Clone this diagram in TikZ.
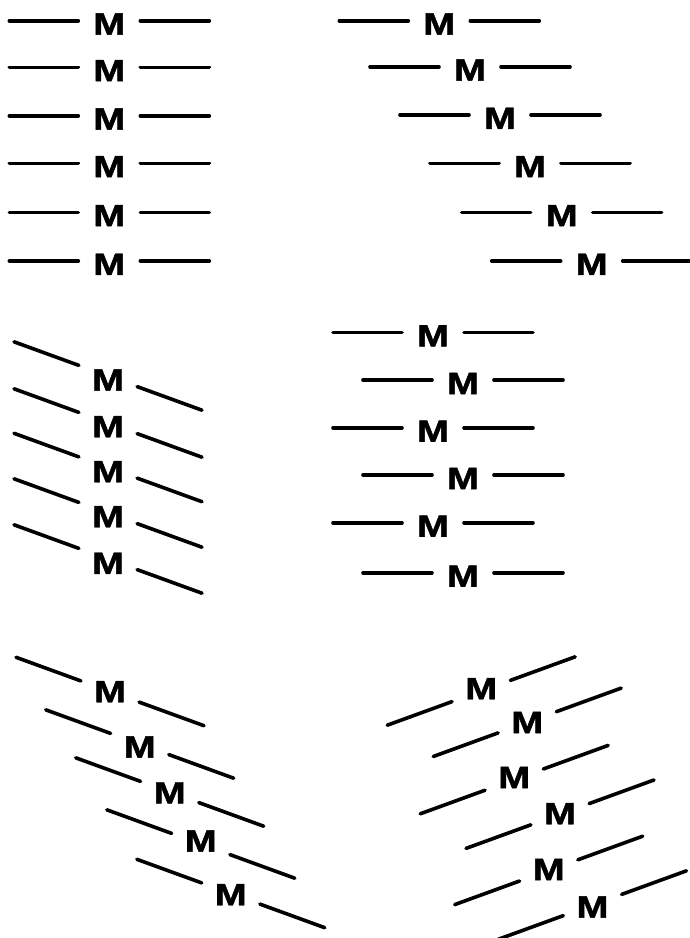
\documentclass[tikz,border=0pt]{standalone}
\usepackage{fontspec}
\newfontfamily\mfontfam[FakeBold=1.4]{Liberation Sans Bold}
\usetikzlibrary{calc}
\newcommand\mglyph{\scalebox{1.24}[1]{M}}
\tikzset{
  seg/.style={line width=3.6pt, line cap=round, black},
  mlab/.style={font=\mfontfam\fontsize{30.7}{31}\selectfont, inner sep=0pt, outer sep=0pt, anchor=center}
}
\begin{document}
\begin{tikzpicture}[x=1pt,y=-1pt]
\useasboundingbox (0,0) rectangle (690,938);
\foreach \n/\px/\py/\mx/\my/\a in {
  % panel 1 (top left)
  A1/109.3/20.7/109.3/24.0/0,
  A2/109.3/67.3/109.3/70.6/0,
  A3/109.3/115.7/109.3/119.0/0,
  A4/109.3/163.3/109.3/166.6/0,
  A5/109.3/212.3/109.3/215.6/0,
  A6/109.3/261.0/109.3/264.3/0,
  % panel 2 (top right)
  B1/439.3/20.7/439.3/24.0/0,
  B2/470.0/66.7/470.0/70.0/0,
  B3/500.0/115.0/500.0/118.3/0,
  B4/530.0/163.3/530.0/166.6/0,
  B5/561.7/212.3/561.7/215.6/0,
  B6/591.7/261.0/591.7/264.3/0,
  % panel 3 (middle left)
  C1/108/376.0/108/380.0/20,
  C2/108/423.0/108/426.7/20,
  C3/108/467.5/108/471.7/20,
  C4/108/513.0/108/516.7/20,
  C5/108/559.0/108/563.3/20,
  % panel 4 (middle right)
  D1/433.0/332.3/433.0/335.8/0,
  D2/463.0/380.0/463.0/383.5/0,
  D3/433.0/427.7/433.0/431.2/0,
  D4/463.0/475.0/463.0/478.5/0,
  D5/433.0/522.7/433.0/526.2/0,
  D6/463.0/572.7/463.0/576.2/0,
  % panel 5 (bottom left)
  E1/110.0/691.5/110.0/691.7/20,
  E2/139.7/744.0/139.7/747.0/20,
  E3/169.7/792.0/169.7/792.8/20,
  E4/200.8/844.0/200.8/841.0/20,
  E5/230.8/893.5/230.8/894.7/20,
  % panel 6 (bottom right)
  F1/481.2/691.0/481.2/688.7/-20,
  F2/527.2/722.3/527.2/722.5/-20,
  F3/514.2/779.6/514.2/777.5/-20,
  F4/560.0/814.2/560.0/813.7/-20,
  F5/548.7/870.4/548.7/869.5/-20,
  F6/592.5/905.0/592.5/907.0/-20%
}{
  \coordinate (p\n) at (\px,\py);
  \node[mlab] (m\n) at (\mx,\my) {\mglyph};
  \coordinate (a\n) at ($(p\n)+(\a+180:100)$);
  \coordinate (b\n) at ($(p\n)+(\a+180:31)$);
  \coordinate (c\n) at ($(p\n)+(\a:31)$);
  \coordinate (d\n) at ($(p\n)+(\a:100)$);
  \draw[seg] (a\n) -- (b\n);
  \draw[seg] (c\n) -- (d\n);
}
\end{tikzpicture}
\end{document}
